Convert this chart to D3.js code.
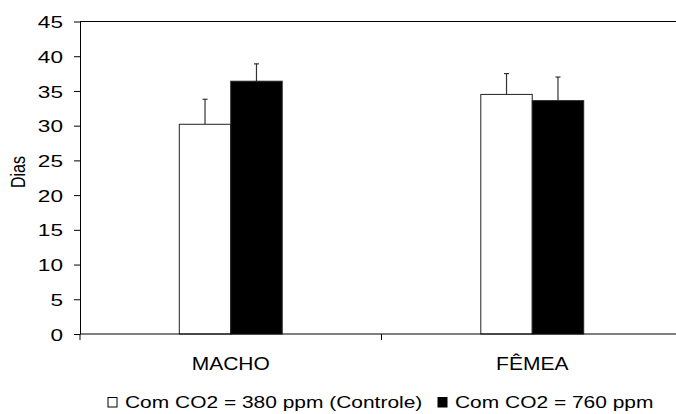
<!DOCTYPE html>
<html>
<head>
<meta charset="utf-8">
<script src="https://cdn.jsdelivr.net/npm/d3@7"></script>
<style>
  html, body { margin: 0; padding: 0; background: #fff; }
  svg { display: block; font-family: "Liberation Sans", Arial, sans-serif; }
</style>
</head>
<body>
<svg id="chart" width="676" height="414"></svg>
<script>
const categories = ["MACHO", "FÊMEA"];
const seriesNames = ["Com CO2 = 380 ppm (Controle)", "Com CO2 = 760 ppm"];
const controlValues = [30.2, 34.5];
const controlErrors = [3.6, 3.0];
const co2Values = [36.4, 33.6];
const co2Errors = [2.5, 3.4];
const yTickValues = [0, 5, 10, 15, 20, 25, 30, 35, 40, 45];
const yLabel = "Dias";

const seriesFill = ["#ffffff", "#000000"];
const plotLeft = 80, plotRight = 683, plotTop = 21.5, plotBottom = 334;

const svg = d3.select("#chart");

const y = d3.scaleLinear().domain([0, 45]).range([plotBottom, plotTop]);
const x = d3.scaleBand().domain(categories).range([plotLeft, plotRight]).paddingInner(0).paddingOuter(0);
const x1 = d3.scaleBand().domain(seriesNames).range([0, x.bandwidth()]).paddingInner(0).paddingOuter(1.93);

const data = [];
categories.forEach((c, i) => {
  data.push({cat: c, s: seriesNames[0], v: controlValues[i], e: controlErrors[i], fill: seriesFill[0]});
  data.push({cat: c, s: seriesNames[1], v: co2Values[i], e: co2Errors[i], fill: seriesFill[1]});
});

// top border line
svg.append("line")
  .attr("x1", plotLeft).attr("x2", plotRight)
  .attr("y1", y(45)).attr("y2", y(45))
  .attr("stroke", "#000").attr("stroke-width", 1);

// error bars (drawn under bars)
const eb = svg.append("g").attr("stroke", "#333").attr("stroke-width", 1.2);
data.forEach(d => {
  const cx = x(d.cat) + x1(d.s) + x1.bandwidth() / 2;
  eb.append("line").attr("x1", cx).attr("x2", cx).attr("y1", y(d.v)).attr("y2", y(d.v + d.e));
  eb.append("line").attr("x1", cx - 2.5).attr("x2", cx + 2.5).attr("y1", y(d.v + d.e)).attr("y2", y(d.v + d.e));
});

// bars
svg.append("g").selectAll("rect").data(data).join("rect")
  .attr("x", d => x(d.cat) + x1(d.s))
  .attr("y", d => y(d.v))
  .attr("width", x1.bandwidth())
  .attr("height", d => y(0) - y(d.v))
  .attr("fill", d => d.fill)
  .attr("stroke", "#222")
  .attr("stroke-width", 1);

// y axis
const TICK_SX = 1.33;
const yAxis = svg.append("g")
  .attr("transform", `translate(${plotLeft},0)`)
  .call(d3.axisLeft(y).tickValues(yTickValues).tickSize(6).tickSizeOuter(0));
yAxis.select(".domain").attr("stroke", "#000");
yAxis.selectAll(".tick line").attr("stroke", "#000");
yAxis.selectAll(".tick text")
  .attr("font-size", 17)
  .attr("fill", "#000")
  .attr("font-family", "Liberation Sans, Arial, sans-serif")
  .attr("x", -17 / TICK_SX)
  .attr("dy", "0.36em")
  .attr("transform", `scale(${TICK_SX},1)`);

// x axis
const xAxis = svg.append("g")
  .attr("transform", `translate(0,${plotBottom})`)
  .call(d3.axisBottom(x).tickSize(0).tickSizeOuter(0));
xAxis.select(".domain").attr("stroke", "#000").attr("d", `M${plotLeft},0H${plotRight}`);
const CAT_SX = 1.2;
xAxis.selectAll(".tick text")
  .attr("font-size", 17.5)
  .attr("fill", "#000")
  .attr("font-family", "Liberation Sans, Arial, sans-serif")
  .attr("y", 0).attr("dy", 0)
  .attr("transform", `translate(0,36) scale(${CAT_SX},1)`);
// boundary ticks between categories
const boundaries = categories.map(c => x(c)).concat([x(categories[categories.length - 1]) + x.bandwidth()]);
xAxis.selectAll(".btick").data(boundaries).join("line")
  .attr("class", "btick")
  .attr("x1", d => d).attr("x2", d => d)
  .attr("y1", 0).attr("y2", 6)
  .attr("stroke", "#000");

// y label
svg.append("text")
  .attr("transform", `translate(25,172) scale(1.3,1) rotate(-90)`)
  .attr("text-anchor", "middle")
  .attr("font-size", 16)
  .attr("fill", "#000")
  .text(yLabel);

// legend
const LEG_SX = 1.27;
const legendItems = [
  {name: seriesNames[0], fill: seriesFill[0], x: 108},
  {name: seriesNames[1], fill: seriesFill[1], x: 438}
];
const lg = svg.append("g");
legendItems.forEach(it => {
  lg.append("rect")
    .attr("x", it.x).attr("y", 397.5)
    .attr("width", 9).attr("height", 9.5)
    .attr("fill", it.fill)
    .attr("stroke", "#000").attr("stroke-width", 1);
  lg.append("text")
    .attr("transform", `translate(${it.x + 17},408) scale(${LEG_SX},1)`)
    .attr("font-size", 16.5)
    .attr("fill", "#000")
    .text(it.name);
});
</script>
</body>
</html>
